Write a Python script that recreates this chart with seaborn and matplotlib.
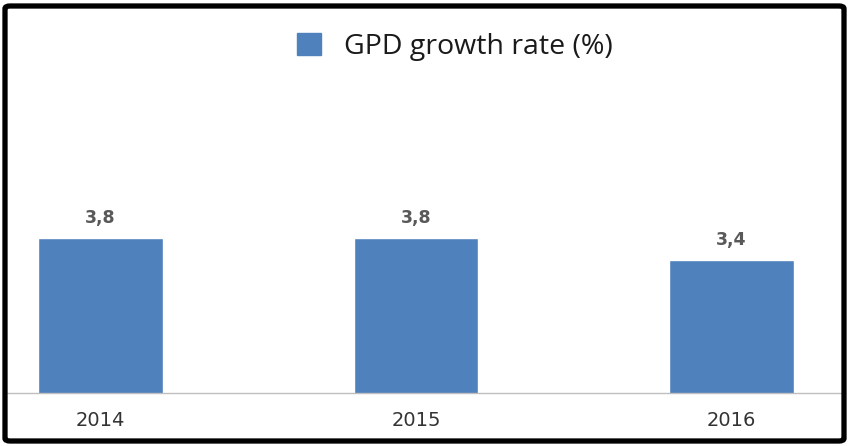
import matplotlib
matplotlib.use("Agg")
import matplotlib.pyplot as plt
import seaborn as sns
import pandas as pd
from matplotlib.patches import Patch, FancyBboxPatch

years = ["2014", "2015", "2016"]
growth = [3.8, 3.8, 3.4]
series_name = "GPD growth rate (%)"

sns.set_theme(style="white")
plt.rcParams['font.family'] = ['Open Sans', 'DejaVu Sans']

W, H = 849, 446
fig = plt.figure(figsize=(W / 100, H / 100), dpi=100)
ax = fig.add_axes([5 / W, (H - 393) / H, 840 / W, (393 - 10) / H])

df = pd.DataFrame({"year": years, "growth": growth})
sns.barplot(data=df, x="year", y="growth", color="#4F81BD", saturation=1,
            width=0.396, ax=ax, zorder=2)

px_per_unit = 315.5
ax.set_xlim((5 - 100.5) / px_per_unit, (845 - 100.5) / px_per_unit)
ymin = 1.0
ypx = 55.36
ax.set_ylim(ymin, ymin + (393 - 10) / ypx)

labels = [f"{v:.1f}".replace(".", ",") for v in growth]
ax.bar_label(ax.containers[0], labels=labels, padding=8, fontsize=12.5,
             color="#595959", fontweight="semibold", family="DejaVu Sans")

ax.set_xlabel("")
ax.set_ylabel("")
ax.set_yticks([])
ax.tick_params(axis="x", length=0, pad=13)
for lbl in ax.get_xticklabels():
    lbl.set_fontfamily("DejaVu Sans")
    lbl.set_fontsize(14)
    lbl.set_color("#333333")
for s in ["top", "left", "right"]:
    ax.spines[s].set_visible(False)
ax.spines["bottom"].set_color("#BFBFBF")
ax.spines["bottom"].set_linewidth(1.0)

fig.legend(handles=[Patch(facecolor="#4F81BD", edgecolor="#4F81BD")],
           labels=[series_name], loc="center",
           bbox_to_anchor=(455 / W, 1 - 47 / H), frameon=False,
           fontsize=20.5, handlelength=0.83, handleheight=0.83,
           handletextpad=0.8, labelcolor="#1a1a1a")

border = FancyBboxPatch((5 / W, 5 / H), 839 / W, 435 / H,
                        boxstyle="round,pad=0,rounding_size=0.006",
                        transform=fig.transFigure, fill=False,
                        edgecolor="black", linewidth=3.8)
fig.patches.append(border)

fig.savefig("out.png", dpi=100)
